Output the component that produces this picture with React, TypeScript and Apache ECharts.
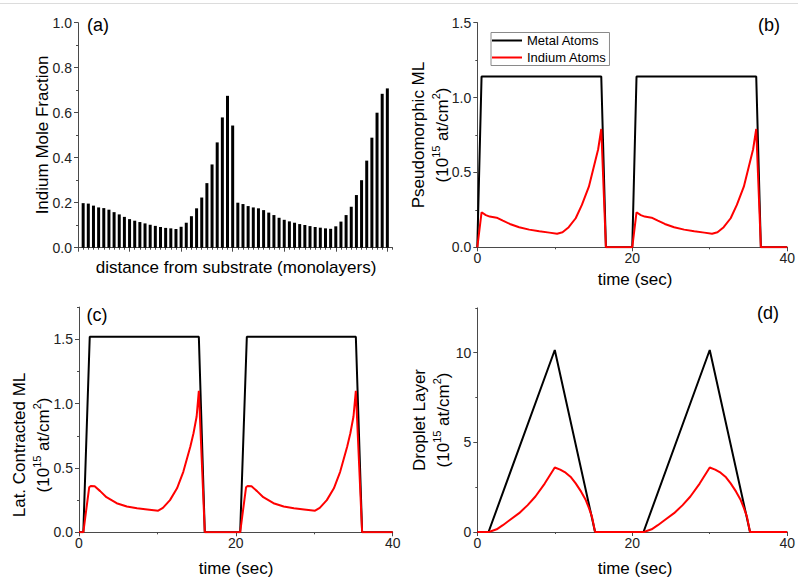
import React, { useEffect, useRef } from "react";
import * as echarts from "echarts";

const FONT = "'Liberation Sans', Arial, Helvetica, sans-serif";

// (a) indium mole fraction for each monolayer (1..60)
const moleFraction = [
  0.198, 0.196, 0.187, 0.179, 0.176, 0.169, 0.158, 0.148, 0.137, 0.127,
  0.12, 0.114, 0.108, 0.102, 0.097, 0.092, 0.088, 0.086, 0.083, 0.093,
  0.111, 0.14, 0.175, 0.223, 0.287, 0.37, 0.468, 0.579, 0.675, 0.543,
  0.2, 0.194, 0.185, 0.179, 0.175, 0.167, 0.156, 0.145, 0.133, 0.124,
  0.117, 0.111, 0.105, 0.101, 0.096, 0.092, 0.089, 0.086, 0.084, 0.095,
  0.116, 0.145, 0.182, 0.234, 0.3, 0.387, 0.489, 0.6, 0.684, 0.708,
];

// (b) pseudomorphic ML
const bMetalT = [0, 0.55, 16.0, 16.6, 20.0, 20.55, 36.0, 36.6, 40];
const bMetalV = [0, 1.14, 1.14, 0, 0, 1.14, 1.14, 0, 0];
const bIndiumT = [
  0, 0.55, 1.1, 1.6, 2.5, 3.3, 4.2, 5.4, 6.7, 8.0, 9.3, 10.3, 11.0, 11.8, 12.7, 13.5, 14.4, 15.2, 15.6, 16.0, 16.6,
  20.0, 20.55, 21.1, 21.6, 22.5, 23.3, 24.2, 25.4, 26.7, 28.0, 29.3, 30.3, 31.0, 31.8, 32.7, 33.5, 34.4, 35.2, 35.6, 36.0, 36.6,
  40,
];
const bIndiumV = [
  0, 0.234, 0.215, 0.205, 0.198, 0.178, 0.156, 0.134, 0.118, 0.107, 0.098, 0.091, 0.1, 0.134, 0.194, 0.283, 0.405, 0.572, 0.655, 0.79, 0,
  0, 0.234, 0.215, 0.205, 0.198, 0.178, 0.156, 0.134, 0.118, 0.107, 0.098, 0.091, 0.1, 0.134, 0.194, 0.283, 0.405, 0.572, 0.655, 0.79, 0,
  0,
];

// (c) laterally contracted ML
const cMetalT = [0, 0.55, 1.37, 15.28, 16.04, 20.55, 21.4, 35.3, 36.1, 40];
const cMetalV = [0, 0, 1.52, 1.52, 0, 0, 1.52, 1.52, 0, 0];
const cIndiumT = [
  0, 0.55, 1.3, 1.5, 2.0, 2.7, 3.5, 4.8, 6.1, 7.4, 8.7, 10.1, 10.7, 11.6, 12.5, 13.3, 14.2, 14.6, 15.0, 15.28, 16.04,
  20.55, 21.3, 21.5, 22.0, 22.7, 23.5, 24.8, 26.1, 27.4, 28.7, 30.1, 30.7, 31.6, 32.5, 33.3, 34.2, 34.6, 35.0, 35.3, 36.1,
  40,
];
const cIndiumV = [
  0, 0, 0.35, 0.36, 0.357, 0.32, 0.273, 0.226, 0.2, 0.187, 0.178, 0.168, 0.19, 0.25, 0.342, 0.47, 0.666, 0.77, 0.9, 1.1, 0,
  0, 0.35, 0.36, 0.357, 0.32, 0.273, 0.226, 0.2, 0.187, 0.178, 0.168, 0.19, 0.25, 0.342, 0.47, 0.666, 0.77, 0.9, 1.1, 0,
  0,
];

// (d) droplet layer
const dMetalT = [0, 1.45, 10.0, 15.2, 21.45, 30.0, 35.2, 40];
const dMetalV = [0, 0, 10.15, 0, 0, 10.15, 0, 0];
const dIndiumT = [
  0, 1.5, 2.5, 3.3, 4.2, 5.4, 6.5, 7.5, 8.7, 10.0, 10.7, 11.4, 12.1, 12.7, 13.4, 14.0, 14.4, 14.8, 15.2,
  21.5, 22.5, 23.3, 24.2, 25.4, 26.5, 27.5, 28.7, 30.0, 30.7, 31.4, 32.1, 32.7, 33.4, 34.0, 34.4, 34.8, 35.2,
  40,
];
const dIndiumV = [
  0, 0, 0.15, 0.38, 0.67, 1.05, 1.5, 1.98, 2.7, 3.6, 3.48, 3.31, 3.05, 2.71, 2.25, 1.78, 1.35, 0.855, 0,
  0, 0.15, 0.38, 0.67, 1.05, 1.5, 1.98, 2.7, 3.6, 3.48, 3.31, 3.05, 2.71, 2.25, 1.78, 1.35, 0.855, 0,
  0,
];

// tick values
const aXTicks = [0, 10, 20, 30, 40, 50, 60];
const aYLabels = [0, 0.2, 0.4, 0.6, 0.8, 1.0];
const timeTicks = [0, 20, 40];
const bYTicks = [0, 0.5, 1.0, 1.5];
const cYTicks = [0, 0.5, 1.0, 1.5];
const dYTicks = [0, 5, 10];

const zip = (t: number[], v: number[]) => t.map((x, i) => [x, v[i]]);

const AXIS_COLOR = "#4a4a4a";
const LABEL_COLOR = "#222";

function mainAxis(
  gridIndex: number,
  position: string,
  min: number,
  max: number,
  ticks: number[],
  labels: number[] | null,
  fmt: (v: number) => string
) {
  return {
    type: "value",
    gridIndex,
    position,
    min,
    max,
    axisLine: { show: true, onZero: false, lineStyle: { color: AXIS_COLOR, width: 1 } },
    axisTick: { show: true, length: 4, customValues: ticks, lineStyle: { color: AXIS_COLOR, width: 1 } },
    axisLabel: labels
      ? {
          show: true,
          customValues: labels,
          formatter: fmt,
          fontSize: 14,
          fontFamily: FONT,
          color: LABEL_COLOR,
          margin: position === "left" ? 6 : 4,
        }
      : { show: false },
    splitLine: { show: false },
  };
}

function minorAxis(gridIndex: number, position: string, min: number, max: number, step: number) {
  return {
    type: "value",
    gridIndex,
    position,
    min,
    max,
    interval: step,
    axisLine: { show: false, onZero: false },
    axisTick: { show: true, length: 2, lineStyle: { color: AXIS_COLOR, width: 1 } },
    axisLabel: { show: false },
    splitLine: { show: false },
  };
}

const f1 = (v: number) => v.toFixed(1);
const f0 = (v: number) => String(Math.round(v));

function yName(x: number, y: number, text: string) {
  return {
    type: "text",
    x,
    y,
    rotation: Math.PI / 2,
    style: {
      text,
      fill: "#000",
      fontSize: 17,
      fontFamily: FONT,
      align: "center",
      verticalAlign: "middle",
      lineHeight: 24,
      rich: {
        sup: { fontSize: 11, fontFamily: FONT, fill: "#000", verticalAlign: "top", lineHeight: 24 },
      },
    },
  };
}

function plainText(x: number, y: number, text: string, size: number) {
  return {
    type: "text",
    x,
    y,
    style: {
      text,
      fill: "#000",
      fontSize: size,
      fontFamily: FONT,
      align: "center",
      verticalAlign: "middle",
    },
  };
}

export default function App() {
  const ref = useRef<HTMLDivElement>(null);
  useEffect(() => {
    if (!ref.current) return;
    const chart = echarts.init(ref.current, null, { renderer: "svg" });
    const lineSeries = (name: string, color: string, xi: number, data: number[][], z: number) => ({
      type: "line",
      name,
      xAxisIndex: xi,
      yAxisIndex: xi,
      data,
      showSymbol: false,
      symbol: "none",
      lineStyle: { color, width: 2 },
      itemStyle: { color },
      z,
    });
    const option = {
      animation: false,
      backgroundColor: "#fff",
      grid: [
        { left: 78, top: 22.7, width: 314.5, height: 225 },
        { left: 477.3, top: 22.7, width: 313.4, height: 224.6 },
        { left: 79, top: 307.1, width: 313.7, height: 225.2 },
        { left: 477.3, top: 307.9, width: 313.4, height: 224.1 },
      ],
      xAxis: [
        mainAxis(0, "bottom", 0, 61, aXTicks, null, f0),
        minorAxis(0, "bottom", 0, 61, 1),
        mainAxis(1, "bottom", 0, 40, timeTicks, timeTicks, f0),
        minorAxis(1, "bottom", 0, 40, 10),
        mainAxis(2, "bottom", 0, 40, timeTicks, timeTicks, f0),
        minorAxis(2, "bottom", 0, 40, 10),
        mainAxis(3, "bottom", 0, 40, timeTicks, timeTicks, f0),
        minorAxis(3, "bottom", 0, 40, 10),
      ],
      yAxis: [
        mainAxis(0, "left", 0, 1.0, aYLabels, aYLabels, f1),
        minorAxis(0, "left", 0, 1.0, 0.1),
        mainAxis(1, "left", 0, 1.5, bYTicks, bYTicks, f1),
        minorAxis(1, "left", 0, 1.5, 0.25),
        mainAxis(2, "left", 0, 1.75, cYTicks, cYTicks, f1),
        minorAxis(2, "left", 0, 1.75, 0.25),
        mainAxis(3, "left", 0, 12.5, dYTicks, dYTicks, f0),
        minorAxis(3, "left", 0, 12.5, 2.5),
      ],
      legend: {
        data: ["Metal Atoms", "Indium Atoms"],
        orient: "vertical",
        left: 491,
        top: 32.5,
        icon: "rect",
        itemWidth: 30,
        itemHeight: 2,
        itemGap: 3,
        padding: [1, 3, 1, 1],
        borderColor: "#8a8a8a",
        borderWidth: 1,
        backgroundColor: "#fff",
        textStyle: { fontSize: 13, fontFamily: FONT, color: "#000", lineHeight: 14 },
        selectedMode: false,
      },
      series: [
        {
          type: "bar",
          name: "Indium Mole Fraction",
          xAxisIndex: 0,
          yAxisIndex: 0,
          data: moleFraction.map((v, i) => [i + 1, v]),
          barWidth: 3,
          itemStyle: { color: "#000" },
        },
        lineSeries("Metal Atoms", "#000", 2, zip(bMetalT, bMetalV), 2),
        lineSeries("Indium Atoms", "#ff0000", 2, zip(bIndiumT, bIndiumV), 3),
        lineSeries("Metal Atoms", "#000", 4, zip(cMetalT, cMetalV), 2),
        lineSeries("Indium Atoms", "#ff0000", 4, zip(cIndiumT, cIndiumV), 3),
        lineSeries("Metal Atoms", "#000", 6, zip(dMetalT, dMetalV), 2),
        lineSeries("Indium Atoms", "#ff0000", 6, zip(dIndiumT, dIndiumV), 3),
      ],
      graphic: [
        { type: "line", shape: { x1: 0, y1: 3.5, x2: 798, y2: 3.5 }, style: { stroke: "#dcdcdc", lineWidth: 1 } },
        plainText(98, 25, "(a)", 18),
        plainText(769, 25, "(b)", 18),
        plainText(97, 315, "(c)", 18),
        plainText(768, 313, "(d)", 18),
        yName(42, 135, "Indium Mole Fraction"),
        yName(430, 135, "Pseudomorphic ML\n(10{sup|15} at/cm{sup|2})"),
        yName(31, 445, "Lat. Contracted ML\n(10{sup|15} at/cm{sup|2})"),
        yName(431, 420, "Droplet Layer\n(10{sup|15} at/cm{sup|2})"),
        plainText(236, 267, "distance from substrate (monolayers)", 17),
        plainText(635, 279, "time (sec)", 17),
        plainText(236, 568, "time (sec)", 17),
        plainText(635, 568, "time (sec)", 17),
      ],
    };
    chart.setOption(option as any);
    return () => chart.dispose();
  }, []);
  return (
    <div
      ref={ref}
      style={{ position: "fixed", left: 0, top: 0, width: 798, height: 579, background: "#fff" }}
    />
  );
}
